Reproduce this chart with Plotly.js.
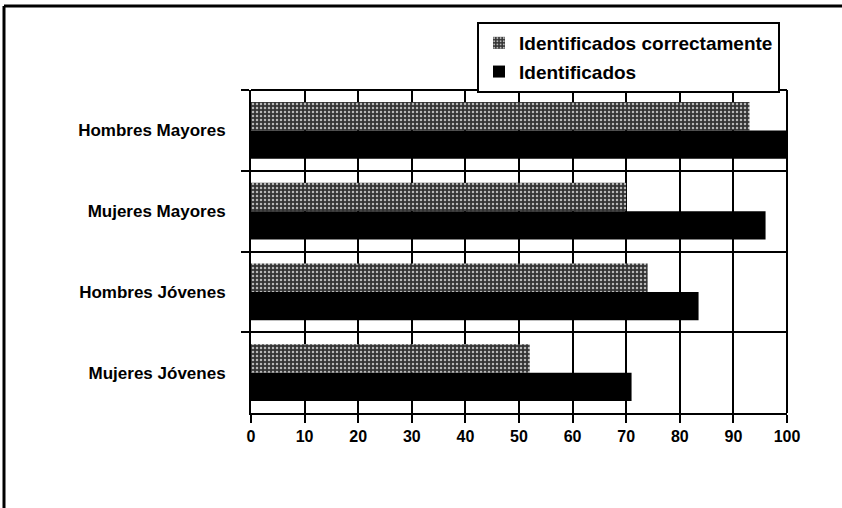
<!DOCTYPE html>
<html>
<head>
<meta charset="utf-8">
<script src="https://cdn.plot.ly/plotly-3.0.1.min.js"></script>
<style>html,body{margin:0;padding:0;background:#fff;}#chart{width:842px;height:508px;}</style>
</head>
<body>
<div id="chart"></div>
<script>
const categories = ['Hombres Mayores', 'Mujeres Mayores', 'Hombres Jóvenes', 'Mujeres Jóvenes'];
const correctos = [93, 70, 74, 52];
const identificados = [100, 96, 83.5, 71];
const xTicks = [0, 10, 20, 30, 40, 50, 60, 70, 80, 90, 100];

const L = 251, R = 787, T = 90, B = 413, W = 842, H = 508;
const px = v => (v - L) / (R - L);
const py = v => (B - v) / (B - T);

const traces = [
  {
    type: 'bar', orientation: 'h', name: 'Identificados correctamente',
    y: categories, x: correctos, legendgroup: 'a',
    marker: {color: '#3a3a3a', line: {width: 0},
      pattern: {shape: '.', bgcolor: '#333333', fgcolor: '#b8b8b8', size: 4, solidity: 0.3, fillmode: 'replace'}}
  },
  {
    type: 'bar', orientation: 'h', name: 'Identificados',
    y: categories, x: identificados, legendgroup: 'b',
    marker: {color: '#000', line: {width: 0}}
  }
];

const font = {family: 'Liberation Sans, Arial, sans-serif', size: 16, color: '#000', weight: 'bold'};
const cfont = {family: 'Liberation Sans, Arial, sans-serif', size: 17, color: '#000', weight: 'bold'};
const lfont = {family: 'Liberation Sans, Arial, sans-serif', size: 19, color: '#000', weight: 'bold'};

const layout = {
  width: W, height: H,
  margin: {l: L, r: W - R, t: T, b: H - B, pad: 0},
  paper_bgcolor: '#fff', plot_bgcolor: '#fff',
  font: font,
  barmode: 'group', bargap: 0.3, bargroupgap: 0,
  showlegend: true,
  legend: {
    x: px(477), y: py(22), xanchor: 'left', yanchor: 'top',
    bordercolor: '#000', borderwidth: 2, bgcolor: '#fff',
    traceorder: 'grouped', tracegroupgap: 1,
    font: lfont, itemwidth: 30
  },
  xaxis: {
    range: [0, 100], tickvals: xTicks, ticktext: xTicks.map(String),
    showgrid: true, gridcolor: '#000', gridwidth: 2,
    showline: true, linecolor: '#000', linewidth: 2, mirror: false,
    ticks: 'outside', ticklen: 8, tickwidth: 2, tickcolor: '#000',
    zeroline: false, tickfont: font, fixedrange: true
  },
  yaxis: {
    type: 'category', autorange: 'reversed', tickson: 'boundaries',
    showgrid: true, gridcolor: '#000', gridwidth: 2,
    showline: true, linecolor: '#000', linewidth: 2,
    ticks: 'outside', ticklen: 8, tickwidth: 2, tickcolor: '#000',
    ticklabelstandoff: 20,
    tickfont: cfont, fixedrange: true
  },
  shapes: [
    {type: 'line', xref: 'paper', yref: 'paper', x0: px(4), x1: px(842), y0: py(6), y1: py(6), line: {color: '#000', width: 3}},
    {type: 'line', xref: 'paper', yref: 'paper', x0: px(4), x1: px(4), y0: py(6), y1: py(508), line: {color: '#000', width: 3}},
    {type: 'line', xref: 'paper', yref: 'paper', x0: 1, x1: 1, y0: 0, y1: 1, line: {color: '#000', width: 2}},
    {type: 'line', xref: 'paper', yref: 'paper', x0: 0, x1: 1, y0: 1, y1: 1, line: {color: '#000', width: 2}}
  ]
};

Plotly.newPlot('chart', traces, layout, {displayModeBar: false, staticPlot: true});
</script>
</body>
</html>
